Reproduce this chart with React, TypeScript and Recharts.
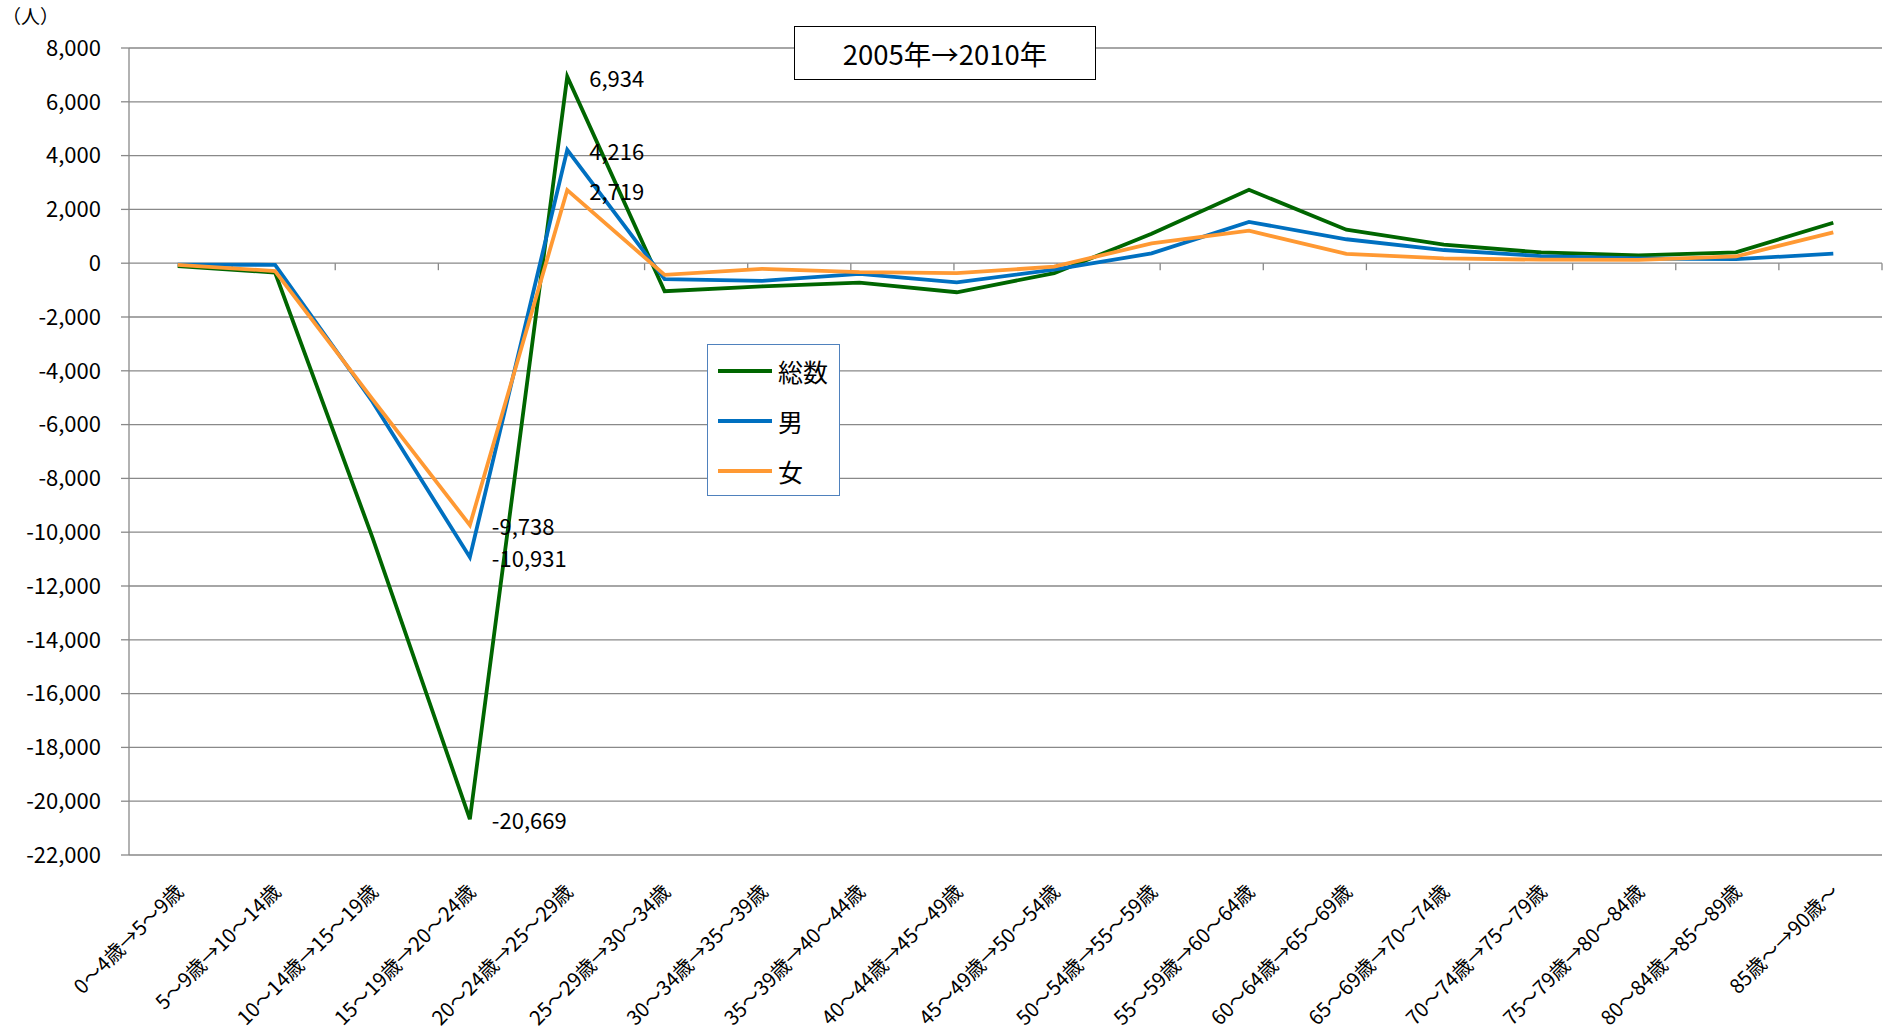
import { LineChart, Line, XAxis, YAxis, CartesianGrid, ReferenceLine, Legend, LabelList } from 'recharts';

const categories = [
  '0～4歳→5～9歳', '5～9歳→10～14歳', '10～14歳→15～19歳', '15～19歳→20～24歳',
  '20～24歳→25～29歳', '25～29歳→30～34歳', '30～34歳→35～39歳', '35～39歳→40～44歳',
  '40～44歳→45～49歳', '45～49歳→50～54歳', '50～54歳→55～59歳', '55～59歳→60～64歳',
  '60～64歳→65～69歳', '65～69歳→70～74歳', '70～74歳→75～79歳', '75～79歳→80～84歳',
  '80～84歳→85～89歳', '85歳～→90歳～',
];

const seriesNames = ['総数', '男', '女'];
const total = [-110, -350, -10200, -20669, 6934, -1040, -860, -720, -1080, -370, 1094, 2730, 1245, 690, 400, 290, 400, 1505];
const male = [-50, -60, -5150, -10931, 4216, -590, -655, -395, -715, -240, 365, 1535, 890, 490, 265, 175, 150, 355];
const female = [-60, -290, -5050, -9738, 2719, -435, -210, -335, -370, -130, 740, 1208, 345, 180, 130, 125, 250, 1145];

const yTicks = [8000, 6000, 4000, 2000, 0, -2000, -4000, -6000, -8000, -10000, -12000, -14000, -16000, -18000, -20000, -22000];
const labelledIndexes = [3, 4];
const boundaries = [1, 2, 3, 4, 5, 6, 7, 8, 9, 10, 11, 12, 13, 14, 15, 16, 17];

const data = categories.map((name, i) => ({ name, total: total[i], male: male[i], female: female[i] }));

const FONT = '"Noto Sans CJK JP", "Noto Sans", sans-serif';
const GRID = '#898989';

function fmt(v: number) {
  return v.toLocaleString('en-US');
}

function CategoryTick({ x, y, payload }: any) {
  const tx = x + 1;
  const ty = y + 24;
  return (
    <text
      x={tx}
      y={ty}
      transform={`rotate(-45, ${tx}, ${ty})`}
      textAnchor="end"
      dominantBaseline="central"
      fontSize={20}
      fill="#000"
      fontFamily={FONT}
    >
      {payload.value}
    </text>
  );
}

function PointLabel(props: any) {
  const { x, y, index, value } = props;
  if (!labelledIndexes.includes(index)) return null;
  return (
    <text x={x + 22} y={y} dominantBaseline="central" fontSize={22} fill="#000" fontFamily={FONT}>
      {fmt(value)}
    </text>
  );
}

function LegendBox({ payload }: any) {
  const items = [...(payload || [])].sort(
    (a: any, b: any) => seriesNames.indexOf(a.value) - seriesNames.indexOf(b.value)
  );
  return (
    <div
      style={{
        width: 133,
        height: 152,
        border: '1.5px solid #4F81BD',
        background: '#fff',
        boxSizing: 'border-box',
        paddingTop: 1,
      }}
    >
      {items.map((p: any) => (
        <div key={p.value} style={{ display: 'flex', alignItems: 'center', height: 50 }}>
          <span style={{ display: 'inline-block', width: 54, height: 4, background: p.color, marginLeft: 10, marginRight: 6 }} />
          <span style={{ fontSize: 25, color: '#000', fontFamily: FONT }}>{p.value}</span>
        </div>
      ))}
    </div>
  );
}

export default function App() {
  return (
    <div style={{ position: 'absolute', left: 0, top: 0, width: 1883, height: 1031, background: '#fff', fontFamily: FONT }}>
      <LineChart width={1883} height={1031} data={data} margin={{ top: 48, right: 1, left: 0, bottom: 0 }}>
        <CartesianGrid vertical={false} stroke={GRID} strokeWidth={1.3} />
        <XAxis
          dataKey="name"
          interval={0}
          height={176}
          tickLine={false}
          axisLine={false}
          padding={{ left: 48.7, right: 48.7 }}
          tick={<CategoryTick />}
        />
        <XAxis xAxisId="b" type="number" domain={[0, 18]} hide />
        <YAxis
          domain={[-22000, 8000]}
          ticks={yTicks}
          interval={0}
          width={129}
          tickFormatter={fmt}
          tickSize={8}
          tickMargin={20}
          axisLine={{ stroke: GRID, strokeWidth: 1.3 }}
          tickLine={{ stroke: GRID, strokeWidth: 1.3 }}
          tick={{ fill: '#000', fontSize: 22, fontFamily: FONT }}
        />
        {boundaries.map((b) => (
          <ReferenceLine
            key={b}
            xAxisId="b"
            segment={[{ x: b, y: 0 }, { x: b, y: -260 }]}
            stroke={GRID}
            strokeWidth={1.3}
          />
        ))}
        <Legend
          layout="vertical"
          align="center"
          verticalAlign="middle"
          wrapperStyle={{ left: 707, top: 344, width: 133 }}
          content={<LegendBox />}
        />
        <Line dataKey="total" name={seriesNames[0]} stroke="#006600" strokeWidth={3.8} dot={false} isAnimationActive={false}>
          <LabelList dataKey="total" content={<PointLabel />} />
        </Line>
        <Line dataKey="male" name={seriesNames[1]} stroke="#0070C0" strokeWidth={3.8} dot={false} isAnimationActive={false}>
          <LabelList dataKey="male" content={<PointLabel />} />
        </Line>
        <Line dataKey="female" name={seriesNames[2]} stroke="#FF9933" strokeWidth={3.8} dot={false} isAnimationActive={false}>
          <LabelList dataKey="female" content={<PointLabel />} />
        </Line>
      </LineChart>
      <div style={{ position: 'absolute', left: 2, top: 2, fontSize: 19, color: '#000' }}>（人）</div>
      <div
        style={{
          position: 'absolute',
          left: 794,
          top: 26,
          width: 302,
          height: 54,
          boxSizing: 'border-box',
          border: '1.5px solid #000',
          background: '#fff',
          display: 'flex',
          alignItems: 'center',
          justifyContent: 'center',
          fontSize: 27.5,
          color: '#000',
        }}
      >
        2005年→2010年
      </div>
    </div>
  );
}
